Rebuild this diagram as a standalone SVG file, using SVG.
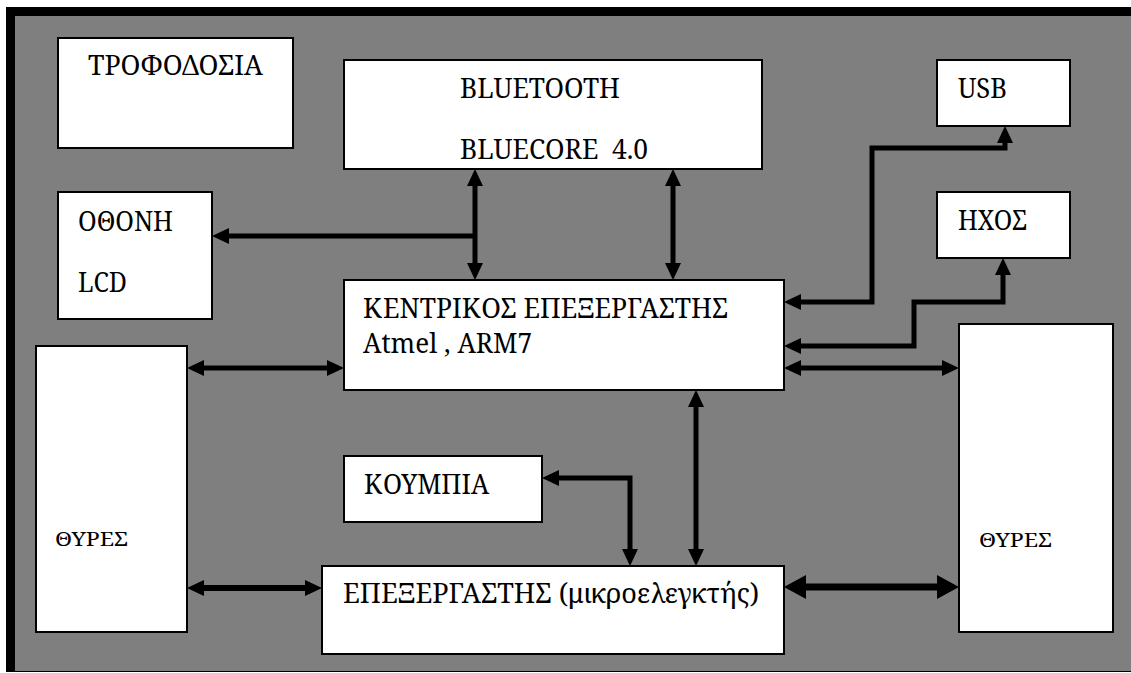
<svg xmlns="http://www.w3.org/2000/svg" width="1131" height="673" viewBox="0 0 1131 673">
  <style>
    .box { fill: #ffffff; stroke: #000000; stroke-width: 2; }
    .lbl { font-family: 'Noto Serif', 'Liberation Serif', serif; font-size: 28px; fill: #000000; }
    .sm { font-size: 20px; }
    .wire { fill: none; stroke: #000000; stroke-width: 5; stroke-linejoin: miter; stroke-linecap: butt; }
    .both { marker-start: url(#arr); marker-end: url(#arr); }
    .end { marker-end: url(#arr); }
  </style>
  <defs>
    <marker id="arr" markerUnits="userSpaceOnUse" markerWidth="17" markerHeight="16" refX="6" refY="8" orient="auto-start-reverse" overflow="visible">
      <path d="M0,0 L17,8 L0,16 Z" fill="#000000"/>
    </marker>
    <marker id="arrBig" markerUnits="userSpaceOnUse" markerWidth="22" markerHeight="24" refX="8" refY="12" orient="auto-start-reverse" overflow="visible">
      <path d="M0,0 L22,12 L0,24 Z" fill="#000000"/>
    </marker>
  </defs>

  <!-- page background and frame -->
  <rect x="0" y="0" width="1131" height="673" fill="#ffffff"/>
  <rect x="6" y="7" width="1125" height="665" fill="#000000"/>
  <rect x="15" y="16" width="1116" height="655" fill="#7f7f7f"/>

  <!-- connectors -->
  <g id="connectors">
    <path class="wire both" d="M475,180 V269"/>
    <path class="wire end" d="M477,236 H223"/>
    <path class="wire both" d="M673,180 V269"/>
    <path class="wire both" d="M795,302 H872 V148 H1005 V137"/>
    <path class="wire both" d="M795,346 H914 V302 H1003 V269"/>
    <path class="wire both" d="M795,368 H948"/>
    <path class="wire both" d="M198,368 H333"/>
    <path class="wire both" d="M696,401 V555"/>
    <path class="wire both" d="M553,478 H630 V555"/>
    <path class="wire both" d="M198,588 H311" style="stroke-width:6"/>
    <path class="wire" d="M798,587 H945" style="stroke-width:7; marker-start:url(#arrBig); marker-end:url(#arrBig)"/>
  </g>

  <g font-family="Noto Serif, Liberation Serif, serif" font-size="28">
    <g id="power">
      <rect class="box" x="58" y="38" width="235" height="110"/>
      <text class="lbl" x="88" y="75" textLength="175" lengthAdjust="spacingAndGlyphs">ΤΡΟΦΟΔΟΣΙΑ</text>
    </g>

    <g id="bluetooth">
      <rect class="box" x="344" y="60" width="418" height="109"/>
      <text class="lbl" x="460" y="98" textLength="160" lengthAdjust="spacingAndGlyphs">BLUETOOTH</text>
      <text class="lbl" x="460" y="159" textLength="188" lengthAdjust="spacingAndGlyphs" xml:space="preserve">BLUECORE  4.0</text>
    </g>

    <g id="usb">
      <rect class="box" x="937" y="60" width="133" height="66"/>
      <text class="lbl" x="958" y="98" textLength="49" lengthAdjust="spacingAndGlyphs">USB</text>
    </g>

    <g id="sound">
      <rect class="box" x="937" y="192" width="133" height="66"/>
      <text class="lbl" x="958" y="230" textLength="69" lengthAdjust="spacingAndGlyphs">ΗΧΟΣ</text>
    </g>

    <g id="lcd">
      <rect class="box" x="58" y="192" width="154" height="127"/>
      <text class="lbl" x="78" y="231" textLength="95" lengthAdjust="spacingAndGlyphs">ΟΘΟΝΗ</text>
      <text class="lbl" x="78" y="292" textLength="49" lengthAdjust="spacingAndGlyphs">LCD</text>
    </g>

    <g id="cpu">
      <rect class="box" x="344" y="280" width="440" height="110"/>
      <text class="lbl" x="363" y="318" textLength="365" lengthAdjust="spacingAndGlyphs">ΚΕΝΤΡΙΚΟΣ ΕΠΕΞΕΡΓΑΣΤΗΣ</text>
      <text class="lbl" x="363" y="353" textLength="169" lengthAdjust="spacingAndGlyphs">Atmel , ARM7</text>
    </g>

    <g id="ports-left">
      <rect class="box" x="36" y="346" width="151" height="286"/>
      <text class="lbl sm" x="55" y="546" textLength="73" lengthAdjust="spacingAndGlyphs">ΘΥΡΕΣ</text>
    </g>

    <g id="ports-right">
      <rect class="box" x="959" y="324" width="154" height="308"/>
      <text class="lbl sm" x="979" y="547" textLength="73" lengthAdjust="spacingAndGlyphs">ΘΥΡΕΣ</text>
    </g>

    <g id="buttons">
      <rect class="box" x="344" y="456" width="198" height="66"/>
      <text class="lbl" x="364" y="494" textLength="125" lengthAdjust="spacingAndGlyphs">ΚΟΥΜΠΙΑ</text>
    </g>

    <g id="mcu">
      <rect class="box" x="322" y="566" width="462" height="88"/>
      <text class="lbl" x="343" y="603" textLength="416" lengthAdjust="spacingAndGlyphs">ΕΠΕΞΕΡΓΑΣΤΗΣ (μικροελεγκτής)</text>
    </g>
  </g>
</svg>
